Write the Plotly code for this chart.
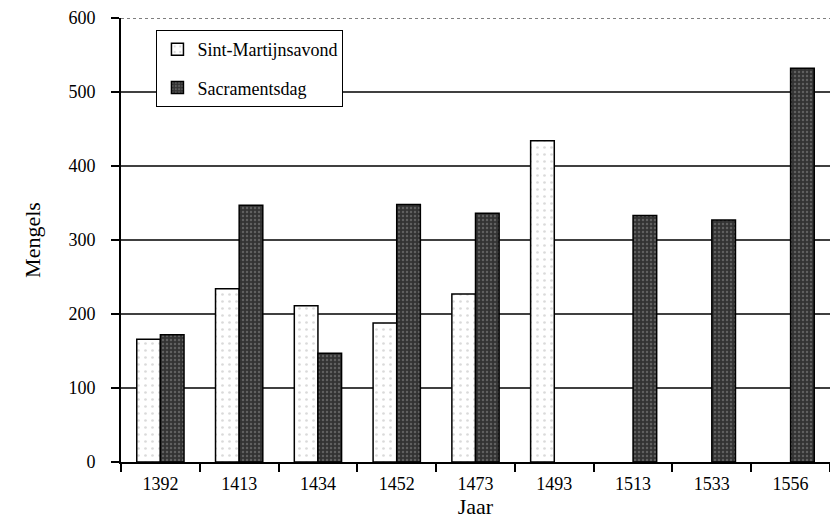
import plotly.graph_objects as go

years = ["1392", "1413", "1434", "1452", "1473", "1493", "1513", "1533", "1556"]
sint_martijn = [166, 234, 211, 188, 227, 434, None, None, None]
sacrament = [172, 347, 147, 348, 336, None, 333, 327, 532]
y_ticks = [0, 100, 200, 300, 400, 500, 600]

FONT = "Liberation Serif"

fig = go.Figure()
fig.add_trace(go.Bar(
    x=years, y=sint_martijn, name="Sint-Martijnsavond", legendgroup="a",
    marker=dict(color="white", line=dict(color="black", width=1.5),
                pattern=dict(shape=".", fgcolor="#b5b5b5", size=7, solidity=0.12)),
))
fig.add_trace(go.Bar(
    x=years, y=sacrament, name="Sacramentsdag", legendgroup="b",
    marker=dict(color="#333333", line=dict(color="black", width=1.5),
                pattern=dict(shape=".", fgcolor="#8c8c8c", size=4, solidity=0.3)),
))

# horizontal grid lines (dotted at the top value)
for v in y_ticks[1:]:
    fig.add_shape(type="line", xref="paper", x0=0, x1=1, yref="y", y0=v, y1=v,
                  layer="below",
                  line=dict(color="black", width=1.6 if v < 600 else 1,
                            dash="solid" if v < 600 else "dot"))

fig.update_layout(
    width=830, height=523,
    margin=dict(l=121, r=0, t=18, b=61),
    paper_bgcolor="white", plot_bgcolor="white",
    barmode="group", bargap=0.4, bargroupgap=0,
    font=dict(family=FONT, size=18, color="black"),
    showlegend=True,
    legend=dict(x=0.05, y=0.973, xanchor="left", yanchor="top",
                bgcolor="white", bordercolor="black", borderwidth=1,
                font=dict(size=18), tracegroupgap=12, traceorder="grouped",
                itemwidth=30),
    xaxis=dict(type="category", showgrid=False, showline=True, linecolor="black",
               linewidth=2, ticks="outside", tickson="boundaries", ticklen=8,
               tickwidth=1.5, tickcolor="black", ticklabelstandoff=4,
               title=dict(text="Jaar", standoff=6), range=[-0.5, 8.5]),
    yaxis=dict(range=[0, 600], tickvals=y_ticks, showgrid=False, showline=True,
               linecolor="black", linewidth=2, ticks="outside", ticklen=8,
               tickwidth=1.5, tickcolor="black", zeroline=False,
               ticklabelstandoff=12,
               title=dict(text="Mengels", standoff=22)),
)

fig.write_html("out.html", config={"displayModeBar": False},
               post_script="document.body.style.margin='0';")
